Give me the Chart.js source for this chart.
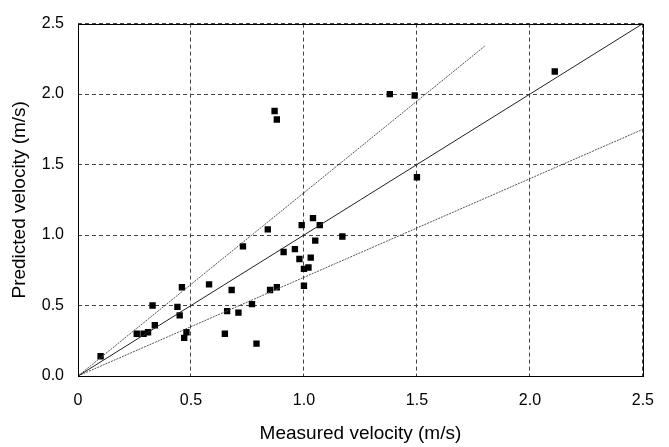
<!DOCTYPE html>
<html>
<head>
<meta charset="utf-8">
<script src="https://cdn.jsdelivr.net/npm/chart.js@4"></script>
<style>
  html, body { margin: 0; padding: 0; background: #fff; }
  #cadre { width: 669px; height: 447px; }
</style>
</head>
<body>
<div id="cadre"><canvas id="graphique"></canvas></div>
<script>
// mesures vs predictions (m/s)
const mesure = [0.10, 0.26, 0.29, 0.31, 0.33, 0.34, 0.44, 0.45, 0.46, 0.48,
  0.47, 0.58, 0.65, 0.66, 0.68, 0.71, 0.73, 0.77, 0.79, 0.84,
  0.85, 0.88, 0.91, 0.96, 0.98, 0.99, 1.00, 1.00, 1.02, 1.03,
  1.04, 1.05, 1.07, 1.17, 0.87, 0.88, 1.38, 1.49, 2.11, 1.50];
const predit = [0.14, 0.30, 0.30, 0.31, 0.50, 0.36, 0.49, 0.43, 0.63, 0.31,
  0.27, 0.65, 0.30, 0.46, 0.61, 0.45, 0.92, 0.51, 0.23, 1.04,
  0.61, 0.63, 0.88, 0.90, 0.83, 1.07, 0.64, 0.76, 0.77, 0.84,
  1.12, 0.96, 1.07, 0.99, 1.88, 1.82, 2.00, 1.99, 2.16, 1.41];

// droites de reference : 1:1, +30 %, -30 %
const ligneX = [0, 2.5];
const ligneY = [0, 2.5];
const hautX = [0, 1.8];
const hautY = [0, 2.34];
const basX = [0, 2.5];
const basY = [0, 1.75];

const ticksAxe = [0, 0.5, 1, 1.5, 2, 2.5];

const police = "'Liberation Sans', Arial, sans-serif";
const enPoints = (xs, ys) => xs.map((x, i) => ({ x: x, y: ys[i] }));

// cadre noir autour de la zone de trace
const cadreNoir = {
  id: "cadreNoir",
  afterDatasetsDraw(chart) {
    const a = chart.chartArea;
    const ctx = chart.ctx;
    ctx.save();
    ctx.strokeStyle = "#000";
    ctx.lineWidth = 1;
    ctx.setLineDash([]);
    ctx.strokeRect(Math.round(a.left) + 0.5, Math.round(a.top) + 0.5,
      Math.round(a.right - a.left), Math.round(a.bottom - a.top));
    ctx.restore();
  },
};

new Chart(document.getElementById("graphique").getContext("2d"), {
  type: "scatter",
  data: {
    datasets: [
      {
        label: "1:1",
        type: "line",
        data: enPoints(ligneX, ligneY),
        borderColor: "#222",
        borderWidth: 1,
        pointRadius: 0,
        fill: false,
      },
      {
        label: "+30%",
        type: "line",
        data: enPoints(hautX, hautY),
        borderColor: "#555",
        borderWidth: 1,
        borderDash: [2, 1],
        pointRadius: 0,
        fill: false,
      },
      {
        label: "-30%",
        type: "line",
        data: enPoints(basX, basY),
        borderColor: "#555",
        borderWidth: 1,
        borderDash: [2, 1],
        pointRadius: 0,
        fill: false,
      },
      {
        label: "Donnees",
        data: enPoints(mesure, predit),
        pointStyle: "rect",
        pointRadius: 4.5,
        pointHoverRadius: 4.5,
        backgroundColor: "#000",
        borderColor: "#000",
        borderWidth: 0,
      },
    ],
  },
  options: {
    responsive: true,
    maintainAspectRatio: false,
    devicePixelRatio: 1,
    animation: false,
    layout: { padding: { top: 15, right: 13, left: 0, bottom: 0 } },
    plugins: {
      legend: { display: false },
      tooltip: { enabled: false },
    },
    scales: {
      x: {
        type: "linear",
        min: 0,
        max: 2.5,
        afterBuildTicks: (s) => { s.ticks = ticksAxe.map((v) => ({ value: v })); },
        afterFit: (s) => { s.height = 71; },
        grid: { color: "#444", lineWidth: 1, drawTicks: false },
        border: { display: false, dash: [4, 3] },
        ticks: {
          color: "#000",
          padding: 15,
          maxRotation: 0,
          font: { family: police, size: 16 },
        },
        title: {
          display: true,
          text: "Measured velocity (m/s)",
          color: "#000",
          padding: { top: 0, bottom: 2 },
          font: { family: police, size: 19 },
        },
      },
      y: {
        type: "linear",
        min: 0,
        max: 2.5,
        afterBuildTicks: (s) => { s.ticks = ticksAxe.map((v) => ({ value: v })); },
        afterFit: (s) => { s.width = 78; },
        grid: { color: "#444", lineWidth: 1, drawTicks: false },
        border: { display: false, dash: [4, 3] },
        ticks: {
          color: "#000",
          padding: 14,
          font: { family: police, size: 16 },
          callback: (v) => Number(v).toFixed(1),
        },
        title: {
          display: true,
          text: "Predicted velocity (m/s)",
          color: "#000",
          padding: { top: 8, bottom: 0 },
          font: { family: police, size: 19 },
        },
      },
    },
  },
  plugins: [cadreNoir],
});
</script>
</body>
</html>
